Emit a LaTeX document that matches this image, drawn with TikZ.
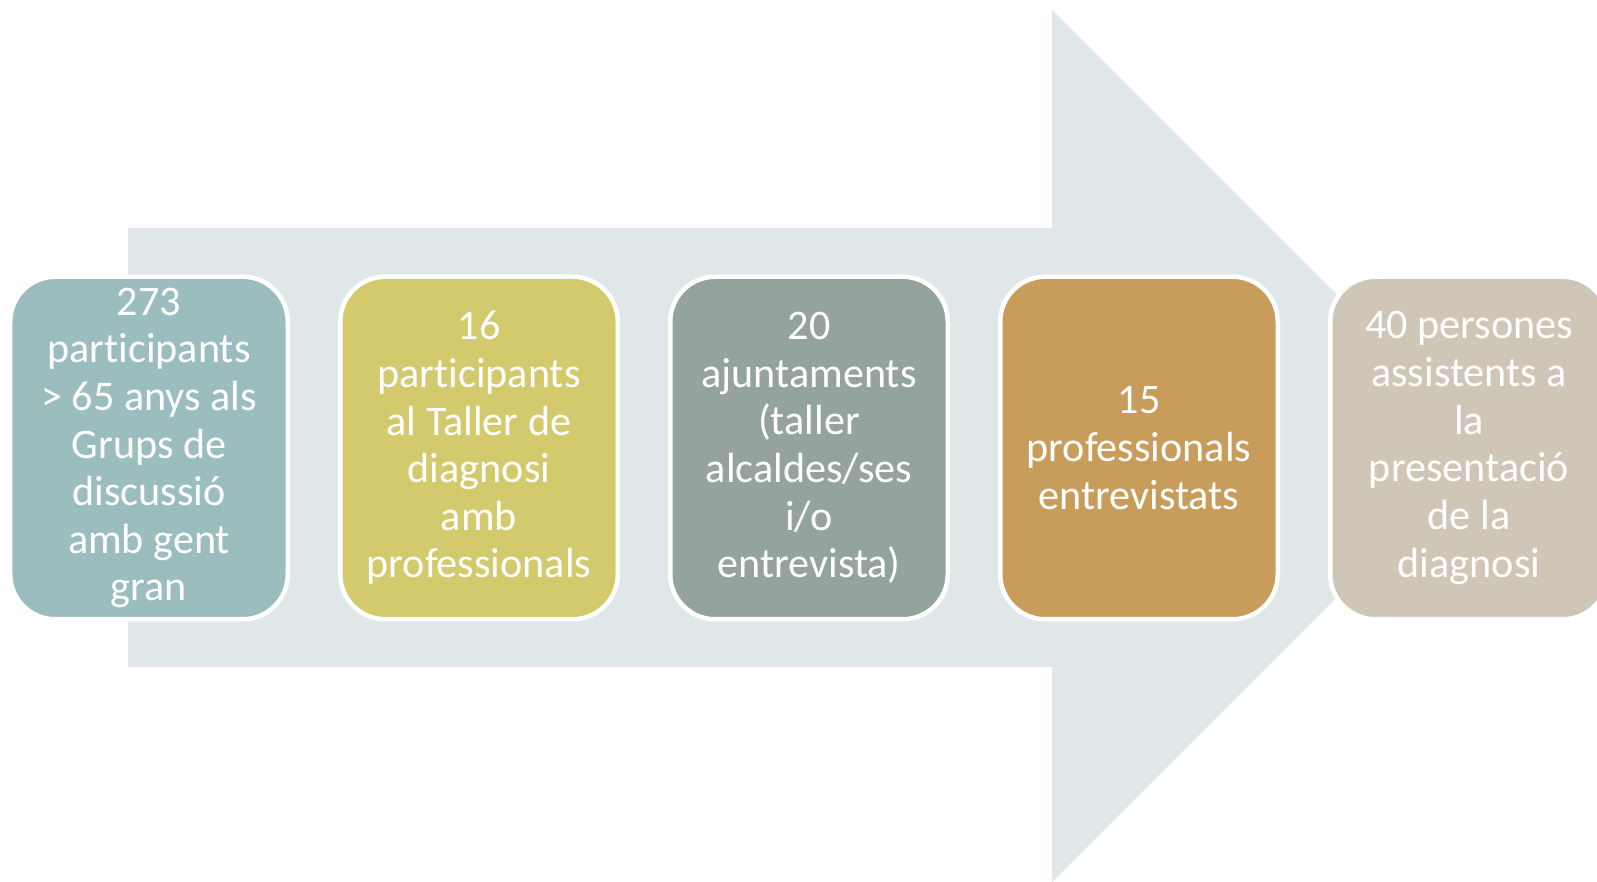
\documentclass[tikz,border=0pt]{standalone}
\usepackage{fontspec}
\setmainfont[Ligatures=NoCommon]{Carlito}
\usepackage{xcolor}
\usepackage{tikz}
\usetikzlibrary{positioning}
\definecolor{arrowgray}{HTML}{DFE7E8}
\definecolor{tealgray}{HTML}{9CBDBD}
\definecolor{olivey}{HTML}{D2CA6C}
\definecolor{sagegray}{HTML}{94A39B}
\definecolor{ochre}{HTML}{C89D5C}
\definecolor{sandgray}{HTML}{CFC6B7}
\tikzset{
  stage/.style={
    rectangle, rounded corners=0.9cm, draw=white, line width=0.09cm,
    minimum width=5.55cm, minimum height=6.85cm, align=center,
    text=white, font=\fontsize{24}{27.1}\selectfont
  },
}

\begin{document}
\begin{tikzpicture}
  \useasboundingbox (0,0) rectangle (31.94,17.64);
  \clip (0,0) rectangle (31.94,17.64);

  % big arrow behind the boxes
  \fill[arrowgray] (2.56,13.08) -- (21.04,13.08) -- (21.04,17.44) -- (29.76,8.72)
    -- (21.04,0) -- (21.04,4.30) -- (2.56,4.30) -- cycle;

  \node[stage, fill=tealgray] (grups) at (2.98,8.68)
    {273\\participants\\> 65 anys als\\Grups de\\discussió\\amb gent\\gran};
  \node[stage, fill=olivey, right=0.96cm of grups] (taller)
    {16\\participants\\al Taller de\\diagnosi\\amb\\professionals};
  \node[stage, fill=sagegray, right=0.96cm of taller] (ajunt)
    {20\\ajuntaments\\(taller\\alcaldes/ses\\i/o\\entrevista)};
  \node[stage, fill=ochre, right=0.96cm of ajunt] (profs)
    {15\\professionals\\entrevistats};
  \node[stage, fill=sandgray, right=0.96cm of profs] (present)
    {40 persones\\assistents a\\la\\presentació\\de la\\diagnosi};

\end{tikzpicture}
\end{document}
